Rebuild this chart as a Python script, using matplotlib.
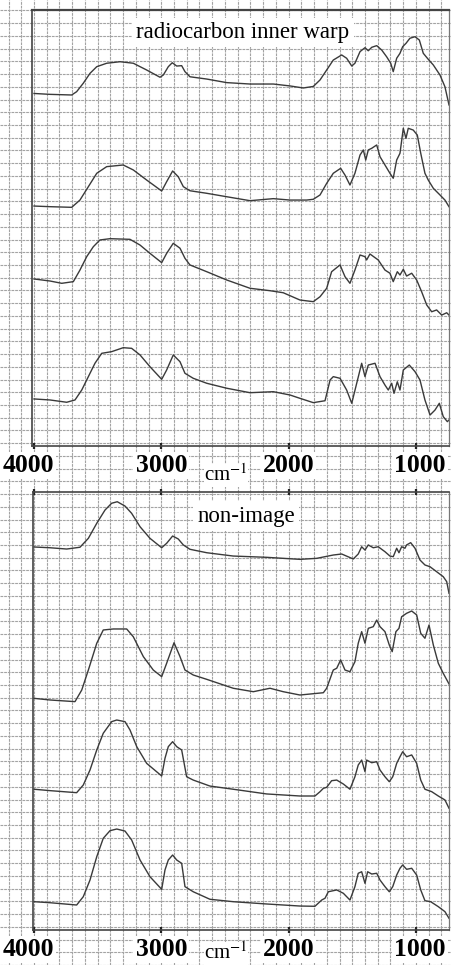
#!/usr/bin/env python3
"""FTIR spectra on chart paper: radiocarbon inner warp vs non-image samples."""

import matplotlib
matplotlib.use("Agg")
import matplotlib.pyplot as plt
import numpy as np
from matplotlib.transforms import ScaledTranslation

# wavenumber (cm-1) / signal (arbitrary units, one unit = one grid cell)
warp_1_wn = [4000, 3874, 3704, 3665, 3613, 3560, 3507, 3429, 3324, 3220,
             3115, 3010, 2984, 2945, 2914, 2879, 2840, 2814, 2775, 2643,
             2486, 2303, 2120, 1989, 1885, 1806, 1753, 1701, 1649, 1583,
             1544, 1504, 1479, 1439, 1400, 1374, 1347, 1308, 1269, 1230,
             1198, 1178, 1151, 1125, 1104, 1078, 1047, 1007, 973, 942,
             903, 863, 811, 772, 740]
warp_1_y = [27.65, 27.58, 27.53, 27.79, 28.45, 29.23, 29.75, 30.02, 30.14, 30.02,
            29.49, 28.92, 29.1, 29.75, 30.06, 29.8, 29.83, 29.36, 28.96, 28.78,
            28.5, 28.39, 28.39, 28.24, 28.08, 28.2, 28.71, 29.49, 30.27, 30.67,
            30.41, 29.8, 30.02, 30.93, 31.24, 31.0, 31.27, 31.4, 31.06, 30.53,
            30.02, 29.36, 30.41, 30.8, 31.32, 31.58, 31.98, 32.1, 31.84, 30.8,
            30.33, 29.88, 29.1, 28.18, 26.75]

warp_2_wn = [4000, 3874, 3704, 3639, 3573, 3507, 3429, 3299, 3220, 3115,
             2997, 2958, 2911, 2867, 2827, 2775, 2643, 2486, 2303, 2120,
             1989, 1858, 1806, 1753, 1701, 1649, 1591, 1557, 1518, 1479,
             1439, 1413, 1394, 1374, 1347, 1308, 1282, 1243, 1204, 1178,
             1151, 1125, 1099, 1078, 1060, 1021, 989, 962, 929, 903,
             863, 811, 772, 740]
warp_2_y = [18.82, 18.77, 18.72, 19.29, 20.34, 21.39, 21.91, 22.04, 21.65, 20.86,
            20.0, 20.73, 21.57, 21.12, 20.34, 20.02, 19.82, 19.55, 19.24, 19.4,
            19.29, 19.29, 19.35, 19.69, 20.6, 21.39, 21.78, 21.25, 20.47, 21.39,
            22.82, 23.22, 22.43, 23.22, 23.35, 23.61, 22.69, 22.04, 21.39, 21.0,
            22.43, 22.96, 24.92, 24.13, 24.92, 24.78, 24.39, 22.96, 21.39, 20.86,
            20.21, 19.69, 19.29, 18.77]

warp_3_wn = [4000, 3874, 3782, 3691, 3639, 3586, 3534, 3482, 3403, 3246,
             3167, 3089, 2997, 2958, 2906, 2853, 2814, 2775, 2643, 2486,
             2303, 2146, 2042, 1911, 1806, 1753, 1701, 1662, 1596, 1557,
             1518, 1479, 1439, 1400, 1387, 1361, 1296, 1243, 1204, 1178,
             1146, 1125, 1099, 1073, 1033, 994, 955, 915, 876, 837,
             797, 758, 740]
warp_3_y = [13.1, 12.94, 12.76, 12.89, 13.8, 14.85, 15.63, 16.16, 16.26, 16.21,
            15.76, 15.11, 14.38, 15.11, 15.9, 15.51, 14.72, 14.2, 13.67, 13.02,
            12.37, 12.18, 12.02, 11.45, 11.32, 11.71, 12.37, 13.67, 14.2, 13.28,
            12.76, 13.8, 14.98, 14.85, 14.59, 15.06, 14.59, 13.8, 13.55, 12.89,
            13.67, 13.41, 13.86, 13.33, 13.55, 13.02, 12.1, 11.06, 10.53, 10.67,
            10.27, 10.45, 10.27]

warp_4_wn = [4000, 3874, 3743, 3678, 3625, 3573, 3521, 3468, 3390, 3299,
             3233, 3167, 3089, 2997, 2958, 2906, 2853, 2814, 2749, 2643,
             2486, 2303, 2120, 1989, 1911, 1806, 1714, 1674, 1649, 1596,
             1544, 1504, 1465, 1426, 1400, 1374, 1321, 1282, 1243, 1217,
             1190, 1172, 1146, 1125, 1099, 1052, 1007, 968, 929, 889,
             850, 816, 785, 753, 740]
warp_4_y = [3.69, 3.61, 3.43, 3.61, 4.39, 5.44, 6.49, 7.27, 7.4, 7.71,
            7.66, 7.14, 6.22, 5.23, 5.96, 7.14, 6.61, 5.7, 5.31, 4.92,
            4.53, 4.18, 4.26, 4.0, 3.74, 3.4, 3.55, 5.18, 5.44, 5.31,
            4.39, 3.35, 4.92, 6.49, 5.44, 6.35, 6.49, 5.44, 4.78, 4.39,
            4.92, 4.13, 5.04, 4.39, 5.96, 6.35, 5.83, 5.18, 3.61, 2.43,
            2.82, 3.35, 2.3, 1.91, 2.04]

nonimg_1_wn = [4000, 3874, 3743, 3639, 3573, 3507, 3442, 3390, 3346, 3285,
               3233, 3167, 3089, 2997, 2958, 2911, 2867, 2827, 2775, 2643,
               2435, 2172, 1911, 1779, 1649, 1583, 1492, 1453, 1426, 1400,
               1374, 1335, 1296, 1243, 1204, 1178, 1151, 1133, 1112, 1086,
               1073, 1041, 1007, 968, 929, 889, 837, 785, 758, 740]
nonimg_1_y = [30.04, 29.98, 29.88, 30.02, 30.72, 31.9, 32.94, 33.47, 33.59, 33.25,
              32.68, 31.63, 30.72, 29.98, 30.33, 30.9, 30.67, 30.2, 29.86, 29.59,
              29.33, 29.23, 29.07, 29.15, 29.41, 29.49, 29.1, 29.49, 30.06, 29.8,
              30.2, 29.98, 30.06, 29.67, 29.33, 29.28, 29.94, 29.59, 30.06, 29.94,
              30.2, 30.38, 29.94, 29.02, 28.63, 28.49, 28.1, 27.71, 27.32, 26.41]

nonimg_2_wn = [4000, 3874, 3678, 3625, 3573, 3507, 3456, 3377, 3272, 3220,
               3141, 3063, 2997, 2958, 2900, 2853, 2814, 2749, 2643, 2435,
               2277, 2146, 2042, 1911, 1727, 1701, 1649, 1622, 1591, 1557,
               1518, 1479, 1453, 1426, 1400, 1374, 1335, 1308, 1282, 1243,
               1209, 1186, 1157, 1133, 1112, 1073, 1033, 994, 962, 929,
               897, 863, 824, 785, 740]
nonimg_2_y = [18.17, 18.04, 17.91, 18.82, 20.39, 22.49, 23.53, 23.61, 23.61, 23.0,
              21.44, 20.39, 19.87, 20.92, 22.53, 21.44, 20.39, 20.0, 19.66, 18.96,
              18.69, 18.96, 18.69, 18.43, 18.61, 18.96, 20.39, 20.53, 21.18, 20.39,
              20.26, 21.04, 22.49, 23.4, 22.49, 23.66, 23.79, 24.31, 23.79, 23.4,
              22.35, 21.83, 23.4, 23.66, 24.57, 24.84, 25.02, 24.71, 23.27, 22.88,
              23.92, 22.35, 20.92, 20.13, 19.3]

nonimg_3_wn = [4000, 3874, 3665, 3613, 3560, 3507, 3456, 3390, 3350, 3285,
               3246, 3193, 3115, 2997, 2971, 2945, 2911, 2879, 2840, 2801,
               2749, 2618, 2435, 2172, 1911, 1793, 1753, 1727, 1701, 1662,
               1622, 1570, 1518, 1479, 1453, 1426, 1400, 1387, 1347, 1308,
               1282, 1243, 1209, 1182, 1151, 1125, 1104, 1073, 1033, 994,
               962, 929, 876, 824, 772, 740]
nonimg_3_y = [11.04, 10.93, 10.77, 11.37, 12.55, 14.12, 15.43, 16.34, 16.47, 16.34,
              15.69, 14.38, 13.07, 12.08, 13.47, 14.38, 14.77, 14.38, 14.12, 12.02,
              11.76, 11.29, 11.04, 10.67, 10.51, 10.51, 10.85, 11.11, 11.19, 11.71,
              11.76, 11.45, 11.04, 12.02, 12.94, 13.33, 12.42, 13.33, 13.12, 13.2,
              12.55, 12.02, 11.63, 12.02, 13.07, 13.59, 13.98, 13.59, 13.73, 13.07,
              11.76, 11.04, 10.85, 10.51, 10.2, 9.55]

nonimg_4_wn = [4000, 3874, 3665, 3613, 3560, 3507, 3456, 3403, 3350, 3285,
               3233, 3167, 3089, 2997, 2971, 2945, 2911, 2879, 2840, 2814,
               2749, 2618, 2435, 2172, 1911, 1793, 1740, 1714, 1688, 1622,
               1570, 1518, 1479, 1453, 1426, 1400, 1379, 1347, 1308, 1282,
               1243, 1209, 1182, 1151, 1125, 1104, 1073, 1033, 994, 962,
               929, 884, 824, 772, 740]
nonimg_4_y = [2.22, 2.14, 1.96, 2.61, 3.92, 5.75, 7.19, 7.79, 7.92, 7.76,
              7.06, 5.49, 4.18, 3.19, 4.71, 5.49, 5.88, 5.49, 5.23, 3.4,
              3.0, 2.41, 2.22, 2.04, 1.88, 1.86, 2.35, 2.49, 3.0, 3.14,
              2.88, 2.35, 3.4, 4.45, 4.57, 3.66, 4.57, 4.39, 4.45, 3.92,
              3.4, 3.0, 3.4, 4.31, 4.84, 5.1, 4.76, 4.84, 4.31, 3.14,
              2.3, 2.22, 1.83, 1.44, 0.92]

x_ticks = [4000, 3000, 2000, 1000]
panel_titles = ["radiocarbon inner warp", "non-image"]

# ---- layout (pixels of the 452x965 output) ----
W, H = 452, 965
PX_PER_WN = 0.1273          # chart paper: 100 cm-1 per square
X4000 = 34                  # pixel column of 4000 cm-1
GRID_Y0, GRID_STEP = 10.5, 12.73
CELL = 12.75                # pixels per signal unit


def px_to_wn(px):
    return 4000 - (px - X4000) / PX_PER_WN


plt.rcParams["font.family"] = ["Liberation Serif", "DejaVu Serif"]
plt.rcParams["mathtext.fontset"] = "stix"

fig = plt.figure(figsize=(W / 100, H / 100), dpi=100)
fig.patch.set_facecolor("white")

# chart paper background over the whole sheet
bg = fig.add_axes([0, 0, 1, 1])
bg.set_xlim(px_to_wn(0), px_to_wn(W))
bg.set_ylim(H, 0)
bg.set_xticks(np.arange(800, 4300, 100))
bg.set_yticks(GRID_Y0 + GRID_STEP * np.arange(0, 76))
bg.grid(True, color="#a3a3a3", lw=0.8, ls=(0, (2.5, 0.8)))
bg.tick_params(length=0, labelbottom=False, labelleft=False)
for s in bg.spines.values():
    s.set_visible(False)


def make_panel(left_px, top_px, right_px, bottom_px):
    ax = fig.add_axes([left_px / W, 1 - bottom_px / H,
                       (right_px - left_px) / W, (bottom_px - top_px) / H])
    ax.patch.set_alpha(0)
    ax.set_xlim(px_to_wn(left_px), px_to_wn(right_px))
    ax.set_ylim(0, (bottom_px - top_px) / CELL)
    ax.set_yticks([])
    ax.set_xticks(x_ticks)
    ax.set_xticklabels([str(t) for t in x_ticks])
    ax.tick_params(axis="x", direction="inout", length=5, width=1.6,
                   color="#222222", labelsize=18.5, pad=3)
    for lab in ax.get_xticklabels():
        lab.set_fontweight("bold")
        lab.set_bbox(dict(facecolor="white", edgecolor="none", pad=1.5))
    labs = ax.get_xticklabels()
    labs[0].set_transform(labs[0].get_transform()
                          + ScaledTranslation(-0.06, 0, fig.dpi_scale_trans))
    labs[-1].set_transform(labs[-1].get_transform()
                           + ScaledTranslation(0.04, 0, fig.dpi_scale_trans))
    for name, s in ax.spines.items():
        s.set_color("#444444")
        s.set_linewidth(1.2)
    ax.spines["right"].set_color("#777777")
    ax.spines["right"].set_linewidth(0.9)
    return ax


ax_top = make_panel(32, 10, 449, 446)
ax_top.spines["top"].set_linewidth(1.6)

ax_bot = make_panel(33, 492, 449, 930)
ax_bot.tick_params(axis="x", top=True)

line_kw = dict(color="#3a3a3a", lw=1.0)
for wn, y in [(warp_1_wn, warp_1_y), (warp_2_wn, warp_2_y),
              (warp_3_wn, warp_3_y), (warp_4_wn, warp_4_y)]:
    ax_top.plot(wn, y, **line_kw)
for wn, y in [(nonimg_1_wn, nonimg_1_y), (nonimg_2_wn, nonimg_2_y),
              (nonimg_3_wn, nonimg_3_y), (nonimg_4_wn, nonimg_4_y)]:
    ax_bot.plot(wn, y, **line_kw)

box = dict(facecolor="white", edgecolor="none", pad=3)
ax_top.text(0.506, 0.948, panel_titles[0], transform=ax_top.transAxes,
            ha="center", va="center", fontsize=16.5, bbox=box)
ax_bot.text(0.512, 0.945, panel_titles[1], transform=ax_bot.transAxes,
            ha="center", va="center", fontsize=16.5, bbox=box)

# unit label under each panel
for base_px in (481, 959):
    fig.text(226 / W, 1 - base_px / H, "cm$^{-1}$", ha="center", va="baseline",
             fontsize=15, bbox=dict(facecolor="white", edgecolor="none", pad=0.5))

fig.savefig("out.png", dpi=100)
plt.close(fig)
